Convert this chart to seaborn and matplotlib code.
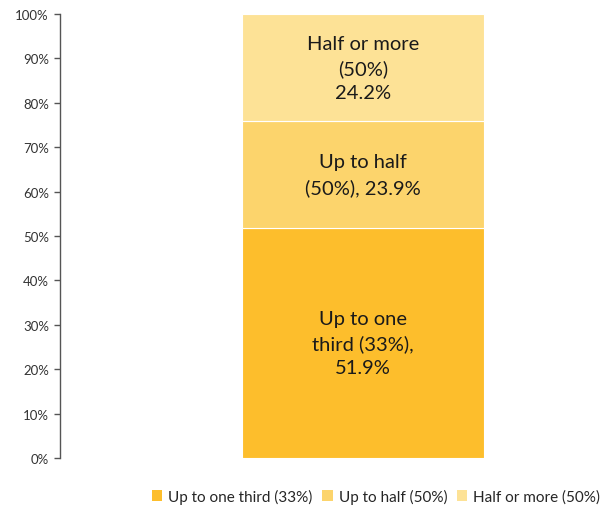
import matplotlib
matplotlib.use('Agg')
import matplotlib.pyplot as plt
from matplotlib.patches import Patch
import seaborn as sns
import pandas as pd

# Data
categories = ['Up to one third (33%)', 'Up to half (50%)', 'Half or more (50%)']
values = [51.9, 23.9, 24.2]
labels = ['Up to one\nthird (33%),\n51.9%', 'Up to half\n(50%), 23.9%', 'Half or more\n(50%)\n24.2%']
colors = ['#FDBE2C', '#FCD46C', '#FDE296']

sns.set_style('white')
plt.rcParams['font.family'] = ['Lato', 'DejaVu Sans']

fig = plt.figure(figsize=(6.11, 5.10), dpi=100)
ax = fig.add_axes([60 / 611, 51 / 510, 540 / 611, 444 / 510])

bottom = 0
for cat, val, lab, col in zip(categories, values, labels, colors):
    df = pd.DataFrame({'x': [''], 'y': [val]})
    sns.barplot(data=df, x='x', y='y', bottom=bottom, color=col, width=0.8,
                edgecolor='white', linewidth=0.8, ax=ax, saturation=1)
    ax.text(0, bottom + val / 2, lab, ha='center', va='center',
            fontsize=14.5, color='#1a1a1a', linespacing=1.5)
    bottom += val

ax.set_xlim(-1.0017, 0.784)
ax.set_ylim(0, 100)
ax.set_yticks(range(0, 101, 10))
ax.set_yticklabels(['{}%'.format(t) for t in range(0, 101, 10)], fontsize=9.5, color='#333333')
ax.set_xticks([])
ax.set_xlabel('')
ax.set_ylabel('')
for s in ['top', 'right', 'bottom']:
    ax.spines[s].set_visible(False)
ax.spines['left'].set_color('#555555')
ax.spines['left'].set_linewidth(1)
ax.tick_params(axis='y', left=True, length=4, width=1, color='#555555', pad=4)

handles = [Patch(facecolor=c, edgecolor='none') for c in colors]
fig.legend(handles, categories, loc='center', bbox_to_anchor=(376 / 611, 1 - 497 / 510),
           ncol=3, frameon=False, fontsize=11, handlelength=0.7, handleheight=0.7,
           handletextpad=0.4, columnspacing=0.6)

fig.savefig('out.png', dpi=100)
